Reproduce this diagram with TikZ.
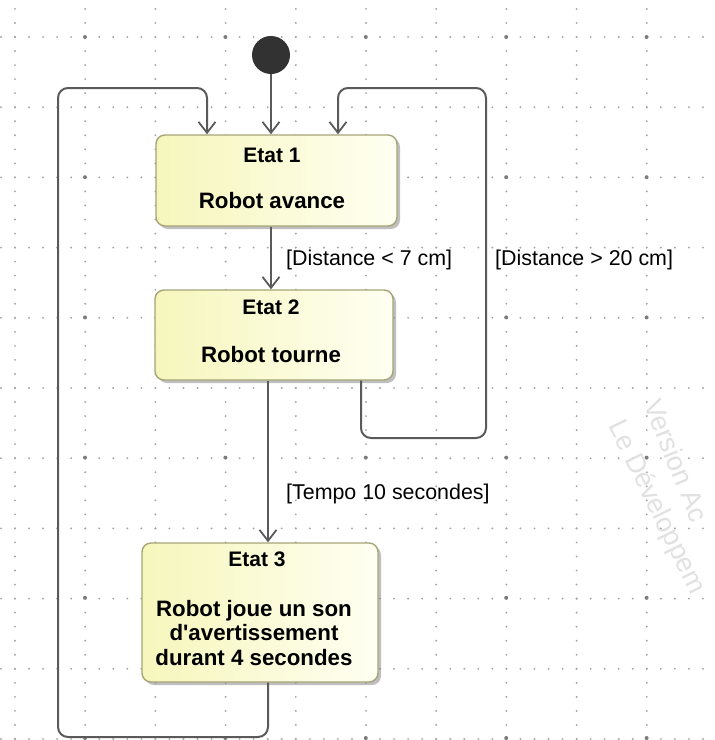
\documentclass[tikz,border=0pt]{standalone}
\usepackage{fontspec}
\setmainfont{Liberation Sans}
\newfontfamily\lsans{Liberation Sans}
\usetikzlibrary{arrows.meta,shadows}
\definecolor{dotc}{RGB}{165,165,165}
\definecolor{linec}{RGB}{90,90,90}
\definecolor{boxborder}{RGB}{165,165,120}
\definecolor{boxyel}{RGB}{246,246,188}
\definecolor{boxwhite}{RGB}{255,255,242}
\definecolor{wmark}{RGB}{225,225,225}
\tikzset{
  statebox/.style={draw=boxborder, line width=1.4pt, rounded corners=9pt,
    left color=boxyel, right color=boxwhite, inner sep=0pt,
    drop shadow={shadow xshift=3pt, shadow yshift=-3pt, fill=gray, opacity=0.5}},
  stitle/.style={font=\lsans\bfseries\fontsize{21}{25}\selectfont, inner sep=0pt, align=center},
  sbody/.style={font=\lsans\bfseries\fontsize{22.3}{24.5}\selectfont, inner sep=0pt, align=center},
  guard/.style={font=\lsans\fontsize{21.4}{24}\selectfont, inner sep=0pt, anchor=west},
  conn/.style={draw=linec, line width=2pt, rounded corners=10pt},
  arr/.style={conn, -{Straight Barb[length=11pt, width=17pt, line width=1.8pt]}},
}
\begin{document}
\begin{tikzpicture}[x=1pt, y=-1pt]
\useasboundingbox (0,0) rectangle (715,740);
\fill[white] (0,0) rectangle (715,740);
% dotted grid
\foreach \k in {0,...,10} {
  \foreach \j in {-1,...,49} {
    \fill[dotc] ({15+14.04*\j},{37+70.2*\k}) circle (1.05pt);
  }
}
\foreach \k in {0,...,9} {
  \foreach \j in {-2,...,50} {
    \fill[dotc] ({15+70.2*\k},{37+14.04*\j}) circle (1.05pt);
  }
}
\foreach \k in {0,...,4} {
  \foreach \m in {0,...,5} {
    \fill[dotc!75!black] ({85+140.4*\k},{37+140.2*\m}) circle (2pt);
  }
}
% watermark (cut off at the right edge, as in the reference)
\begin{scope}
\clip (0,0) rectangle (715,740);
\node[wmark, font=\lsans\fontsize{27}{30}\selectfont, rotate=-68, anchor=south west, inner sep=0pt] (wm1) at (643,404) {Version Ac};
\node[wmark, font=\lsans\fontsize{27}{30}\selectfont, rotate=-64, anchor=south west, inner sep=0pt] (wm2) at (603,428) {Le Développem};
\end{scope}
% initial state
\node[circle, fill={rgb,255:red,50;green,50;blue,50}, minimum size=38pt, inner sep=0pt] (init) at (271,55) {};
% states
\node[statebox, minimum width=241pt, minimum height=91pt] (e1) at (276.5,180.5) {};
\node[stitle] (e1t) at (272,155) {Etat 1};
\node[sbody] (e1b) at (272,201) {Robot avance};
\node[statebox, minimum width=238pt, minimum height=90pt] (e2) at (274,335) {};
\node[stitle] (e2t) at (271,307) {Etat 2};
\node[sbody] (e2b) at (271,355) {Robot tourne};
\node[statebox, minimum width=236pt, minimum height=139pt] (e3) at (260,612.5) {};
\node[stitle] (e3t) at (257,559) {Etat 3};
\node[sbody] (e3b) at (254,633) {Robot joue un son\\d'avertissement\\durant 4 secondes};
% helper coordinates
\coordinate (xa) at (268,0);
\coordinate (L1) at (58,737);
\coordinate (L2) at (207,88);
\coordinate (R0) at (361,0);
\coordinate (R1) at (486,438);
\coordinate (R2) at (338,88);
% connectors
\draw[arr] (init) -- (init |- e1.north);
\draw[arr] (init |- e1.south) -- (init |- e2.north);
\draw[arr] (xa |- e2.south) -- (xa |- e3.north);
\draw[arr] (xa |- e3.south) |- (L1) |- (L2) -- (L2 |- e1.north);
\draw[arr] (R0 |- e2.south) |- (R1) |- (R2) -- (R2 |- e1.north);
% guards
\node[guard] (g1) at (286,260) {[Distance < 7 cm]};
\node[guard] (g2) at (495,260) {[Distance > 20 cm]};
\node[guard] (g3) at (286,494) {[Tempo 10 secondes]};
\end{tikzpicture}
\end{document}
